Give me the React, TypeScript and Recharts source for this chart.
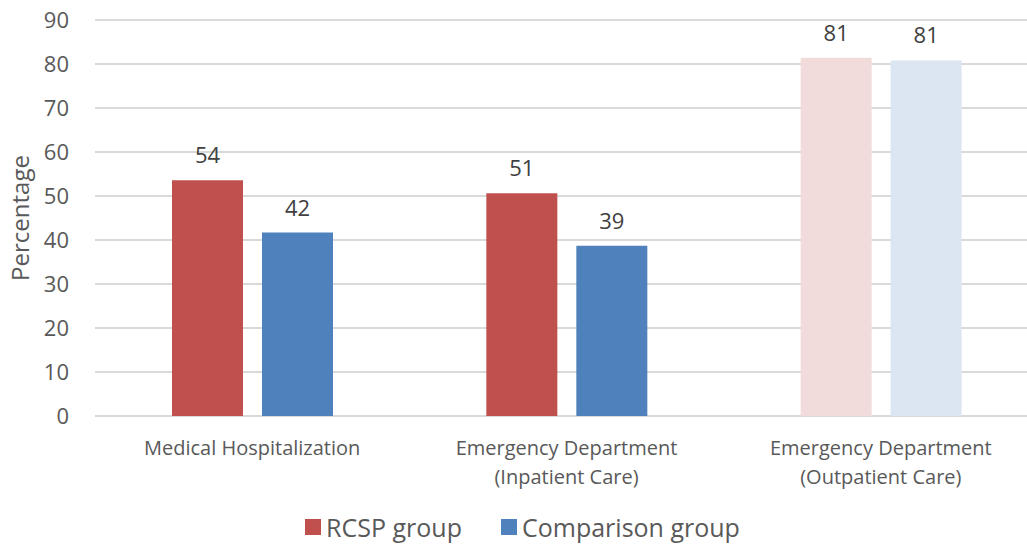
import { BarChart, Bar, Cell, XAxis, YAxis, CartesianGrid, Legend, LabelList, Label } from 'recharts';

const categories = ['Medical Hospitalization', 'Emergency Department\n(Inpatient Care)', 'Emergency Department\n(Outpatient Care)'];
const rcspValues = [53.6, 50.6, 81.4];
const comparisonValues = [41.7, 38.7, 80.8];
const rcspColors = ['#C0504D', '#C0504D', '#F2DCDB'];
const comparisonColors = ['#4F81BD', '#4F81BD', '#DCE6F2'];
const yTicks = [0, 10, 20, 30, 40, 50, 60, 70, 80, 90];

const data = categories.map((name, i) => ({ name, rcsp: rcspValues[i], comparison: comparisonValues[i] }));

const FONT = '"Open Sans", "Noto Sans", sans-serif';

function CategoryTick({ x, y, payload }: any) {
  const lines = String(payload.value).split('\n');
  return (
    <text x={x} y={y} textAnchor="middle" fill="#595959" fontSize={20} fontFamily={FONT}>
      {lines.map((line, i) => (
        <tspan key={i} x={x} dy={i === 0 ? 37 : 29}>{line}</tspan>
      ))}
    </text>
  );
}

function LegendContent() {
  const items = [
    { label: 'RCSP group', color: '#C0504D' },
    { label: 'Comparison group', color: '#4F81BD' },
  ];
  return (
    <div style={styles.legend}>
      {items.map((it) => (
        <div key={it.label} style={styles.legendItem}>
          <span style={{ ...styles.swatch, background: it.color }} />
          <span>{it.label}</span>
        </div>
      ))}
    </div>
  );
}

export default function App() {
  return (
    <div style={styles.page}>
      <BarChart
        width={1027}
        height={546}
        data={data}
        margin={{ top: 20, right: -11, left: 0, bottom: 0 }}
        barSize={71}
        barGap={19}
      >
        <CartesianGrid stroke="#D9D9D9" strokeWidth={2} vertical={false} />
        <XAxis
          dataKey="name"
          axisLine={false}
          tickLine={false}
          tickSize={0}
          height={96}
          interval={0}
          tick={<CategoryTick />}
        />
        <YAxis
          width={95}
          domain={[0, 90]}
          ticks={yTicks}
          axisLine={false}
          tickLine={false}
          tickSize={0}
          tickMargin={26}
          tick={{ fill: '#595959', fontSize: 22, fontFamily: FONT }}
        >
          <Label
            value="Percentage"
            angle={-90}
            position="insideLeft"
            offset={20}
            style={{ textAnchor: 'middle', fill: '#595959', fontSize: 24, fontFamily: FONT }}
          />
        </YAxis>
        <Legend verticalAlign="bottom" content={<LegendContent />} />
        <Bar dataKey="rcsp" name="RCSP group" isAnimationActive={false}>
          {rcspColors.map((c, i) => <Cell key={i} fill={c} />)}
          <LabelList dataKey="rcsp" position="top" offset={17} formatter={(v: any) => Math.round(Number(v))}
            style={{ fill: '#404040', fontSize: 22, fontFamily: FONT }} />
        </Bar>
        <Bar dataKey="comparison" name="Comparison group" isAnimationActive={false}>
          {comparisonColors.map((c, i) => <Cell key={i} fill={c} />)}
          <LabelList dataKey="comparison" position="top" offset={17} formatter={(v: any) => Math.round(Number(v))}
            style={{ fill: '#404040', fontSize: 22, fontFamily: FONT }} />
        </Bar>
      </BarChart>
    </div>
  );
}

const styles: Record<string, React.CSSProperties> = {
  page: { position: 'absolute', left: 0, top: 0, width: 1027, height: 546, background: '#fff' },
  legend: {
    display: 'flex', justifyContent: 'center', alignItems: 'flex-start', gap: 39,
    fontFamily: FONT, fontSize: 25, lineHeight: '30px', color: '#595959', height: 34, marginLeft: 7,
  },
  legendItem: { display: 'flex', alignItems: 'center', gap: 5, height: 30 },
  swatch: { display: 'inline-block', width: 16, height: 16 },
};
